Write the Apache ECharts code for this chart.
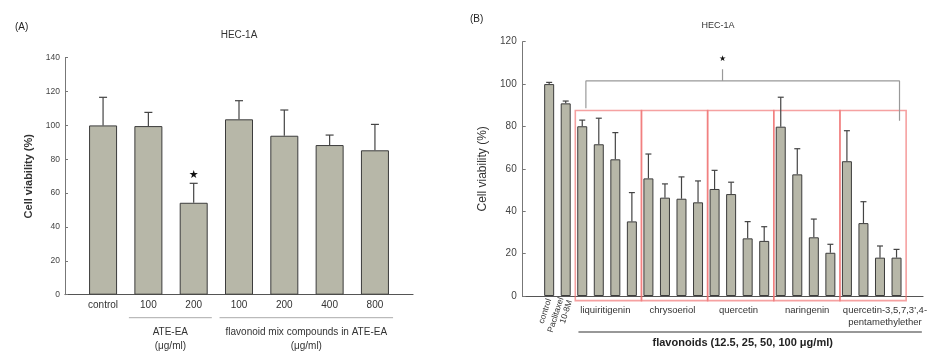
<!DOCTYPE html>
<html>
<head>
<meta charset="utf-8">
<script src="https://cdn.jsdelivr.net/npm/echarts@6/dist/echarts.min.js"></script>
<style>
html, body { margin: 0; padding: 0; background: #fff; }
#chart { width: 943px; height: 351px; }
</style>
</head>
<body>
<div id="chart"></div>
<script>
// ---- panel (A) ----
const catsA = ['control', '100', '200', '100', '200', '400', '800'];
const meanA = [100, 99.6, 54.3, 103.6, 93.9, 88.4, 85.3];
const errTopA = [116.6, 107.7, 65.8, 114.6, 109.1, 94.3, 100.6];
const starA = [[2, 70.7]];
const groupNamesA = ['ATE-EA', 'flavonoid mix compounds in ATE-EA'];
const groupFirstA = [1, 3];
const groupLastA = [2, 6];
const yTicksA = [0, 140, 20];

// ---- panel (B) ----
const catsB = ['control', 'Paclitaxel\n10-8M'];
const meanB = [100.0, 90.9, 80.1, 71.6, 64.5, 35.2, 55.5, 46.4, 45.9, 44.2, 50.5,
               48.1, 27.2, 26.0, 79.9, 57.4, 27.7, 20.4, 63.6, 34.4, 18.1, 18.1];
const errTopB = [100.8, 92.0, 83.0, 83.9, 77.1, 48.8, 67.0, 52.9, 56.2, 54.3, 59.3,
                 53.7, 35.1, 32.7, 93.8, 69.5, 36.3, 24.4, 78.0, 44.5, 23.6, 22.0];
const flavonoids = ['liquiritigenin', 'chrysoeriol', 'quercetin', 'naringenin',
                    "quercetin-3,5,7,3',4-\npentamethylether"];
const flavFirst = [2, 6, 10, 14, 18];
const flavLabelAt = [3.4, 7.45, 11.45, 15.6, 20.3];
const bracketB = [[2.22, 88.6], [2.22, 101.5], [21.18, 101.5], [21.18, 82.7]];
const bracketMidB = [10.48, 101.5, 107];
const starB = [[10.48, 112]];
const yTicksB = [0, 120, 20];

const FONT = 'Liberation Sans, Arial, Helvetica, sans-serif';
const BAR = '#b7b7a8';
const EDGE = '#3c3c3c';

function errRender(capHalf) {
    return function (params, api) {
        const p0 = api.coord([api.value(0), api.value(1)]);
        const p1 = api.coord([api.value(0), api.value(2)]);
        const st = { stroke: '#444', lineWidth: 1.2 };
        return {
            type: 'group',
            children: [
                { type: 'line', shape: { x1: p0[0], y1: p0[1], x2: p1[0], y2: p1[1] }, style: st },
                { type: 'line', shape: { x1: p1[0] - capHalf, y1: p1[1], x2: p1[0] + capHalf, y2: p1[1] }, style: st }
            ]
        };
    };
}

function starRender(size) {
    return function (params, api) {
        const p = api.coord([api.value(0), api.value(1)]);
        return {
            type: 'text', x: p[0], y: p[1],
            style: { text: '★', fill: '#111', font: size + 'px DejaVu Sans',
                     align: 'center', verticalAlign: 'middle', textAlign: 'center', textVerticalAlign: 'middle' }
        };
    };
}

const chart = echarts.init(document.getElementById('chart'));

chart.setOption({
    animation: false,
    textStyle: { fontFamily: FONT },
    title: [
        { text: '(A)', left: 15, top: 22, padding: 0, textStyle: { fontSize: 10, fontWeight: 'normal', color: '#222' } },
        { text: 'HEC-1A', left: 239, top: 30, padding: 0, textAlign: 'center', textStyle: { fontSize: 10, fontWeight: 'normal', color: '#333' } },
        { text: '(B)', left: 470, top: 14, padding: 0, textStyle: { fontSize: 10, fontWeight: 'normal', color: '#222' } },
        { text: 'HEC-1A', left: 718, top: 21, padding: 0, textAlign: 'center', textStyle: { fontSize: 9, fontWeight: 'normal', color: '#333' } }
    ],
    grid: [
        { left: 65, right: 530, top: 57.7, bottom: 56.3 },
        { left: 522.7, right: 20, top: 41.7, bottom: 55 }
    ],
    xAxis: [
        {
            gridIndex: 0, type: 'value', min: -0.84, max: 6.84, position: 'bottom',
            axisLine: { onZero: false, lineStyle: { color: '#555', width: 1.2 } },
            axisTick: { show: false }, splitLine: { show: false },
            axisLabel: {
                customValues: catsA.map((c, i) => i),
                formatter: v => catsA[Math.round(v)],
                fontSize: 10, color: '#333', margin: 6
            }
        },
        {
            gridIndex: 1, type: 'value', min: -1.6, max: 22.6, position: 'bottom',
            axisLine: { onZero: false, lineStyle: { color: '#555', width: 1.2 } },
            axisTick: { show: false }, splitLine: { show: false },
            axisLabel: {
                customValues: catsB.map((c, i) => i),
                formatter: v => catsB[Math.round(v)],
                rotate: 72, fontSize: 8.5, color: '#333', margin: 3, lineHeight: 9
            }
        },
        {
            gridIndex: 1, type: 'value', min: -1.6, max: 22.6, position: 'bottom',
            axisLine: { show: false, onZero: false }, axisTick: { show: false }, splitLine: { show: false },
            axisLabel: {
                customValues: flavLabelAt,
                formatter: v => flavonoids[flavLabelAt.indexOf(v)],
                fontSize: 9.5, color: '#333', margin: 8, lineHeight: 12
            }
        }
    ],
    yAxis: [
        {
            gridIndex: 0, type: 'value', min: yTicksA[0], max: yTicksA[1], interval: yTicksA[2], position: 'left',
            name: 'Cell viability (%)', nameLocation: 'middle', nameGap: 31,
            nameTextStyle: { fontSize: 11, fontWeight: 'bold', color: '#333' },
            axisLine: { show: true, onZero: false, lineStyle: { color: '#777' } },
            axisTick: { show: true, inside: true, length: 3, lineStyle: { color: '#777' } },
            splitLine: { show: false },
            axisLabel: { fontSize: 8.5, color: '#444', margin: 5 }
        },
        {
            gridIndex: 1, type: 'value', min: yTicksB[0], max: yTicksB[1], interval: yTicksB[2], position: 'left',
            name: 'Cell viability (%)', nameLocation: 'middle', nameGap: 34,
            nameTextStyle: { fontSize: 12, color: '#333' },
            axisLine: { show: true, onZero: false, lineStyle: { color: '#777' } },
            axisTick: { show: true, inside: true, length: 3, lineStyle: { color: '#777' } },
            splitLine: { show: false },
            axisLabel: { fontSize: 10, color: '#444', margin: 6 }
        }
    ],
    series: [
        // panel A bars
        {
            type: 'bar', xAxisIndex: 0, yAxisIndex: 0, barWidth: 28,
            data: meanA.map((v, i) => [i, v]),
            itemStyle: { color: BAR, borderColor: EDGE, borderWidth: 1 }, z: 2
        },
        {
            type: 'custom', xAxisIndex: 0, yAxisIndex: 0, z: 3,
            data: meanA.map((v, i) => [i, v, errTopA[i]]),
            renderItem: errRender(4)
        },
        {
            type: 'custom', xAxisIndex: 0, yAxisIndex: 0, z: 3,
            data: starA, renderItem: starRender(11)
        },
        // panel A group underlines and labels
        {
            type: 'custom', xAxisIndex: 0, yAxisIndex: 0, clip: false, silent: true,
            data: groupNamesA.map((n, i) => [groupFirstA[i], groupLastA[i]]),
            renderItem: function (params, api) {
                const a = api.coord([api.value(0) - 0.43, 0]);
                const b = api.coord([api.value(1) + 0.4, 0]);
                const y = a[1] + 23;
                const mid = (a[0] + b[0]) / 2;
                const tx = { fill: '#333', font: '10px ' + FONT, align: 'center', textAlign: 'center',
                             verticalAlign: 'middle', textVerticalAlign: 'middle' };
                return {
                    type: 'group',
                    children: [
                        { type: 'line', shape: { x1: a[0], y1: y, x2: b[0], y2: y }, style: { stroke: '#aaa', lineWidth: 1 } },
                        { type: 'text', x: mid, y: y + 15, style: Object.assign({ text: groupNamesA[params.dataIndex] }, tx) },
                        { type: 'text', x: mid, y: y + 29, style: Object.assign({ text: '(μg/ml)' }, tx) }
                    ]
                };
            }
        },
        // panel B boxes
        {
            type: 'custom', xAxisIndex: 1, yAxisIndex: 1, clip: false, silent: true, z: 1,
            data: flavFirst.map(f => [f - 0.42, f + 3.58]),
            renderItem: function (params, api) {
                const p0 = api.coord([api.value(0), 87.5]);
                const p1 = api.coord([api.value(1), -2.2]);
                return {
                    type: 'rect',
                    shape: { x: p0[0], y: p0[1], width: p1[0] - p0[0], height: p1[1] - p0[1] },
                    style: { fill: 'none', stroke: 'rgba(240,110,110,0.65)', lineWidth: 1.6 }
                };
            }
        },
        // panel B bars
        {
            type: 'bar', xAxisIndex: 1, yAxisIndex: 1, barWidth: 10,
            data: meanB.map((v, i) => [i, v]),
            itemStyle: { color: BAR, borderColor: EDGE, borderWidth: 1 }, z: 2
        },
        {
            type: 'custom', xAxisIndex: 1, yAxisIndex: 1, z: 3,
            data: meanB.map((v, i) => [i, v, errTopB[i]]),
            renderItem: errRender(3)
        },
        // bracket with significance star
        {
            type: 'line', xAxisIndex: 1, yAxisIndex: 1, data: bracketB, symbol: 'none',
            lineStyle: { color: '#999', width: 1.2 }, z: 3, silent: true
        },
        {
            type: 'line', xAxisIndex: 1, yAxisIndex: 1, symbol: 'none', silent: true,
            data: [[bracketMidB[0], bracketMidB[1]], [bracketMidB[0], bracketMidB[2]]],
            lineStyle: { color: '#999', width: 1.2 }, z: 3
        },
        {
            type: 'custom', xAxisIndex: 1, yAxisIndex: 1, z: 3,
            data: starB, renderItem: starRender(8)
        },
        // panel B flavonoid underline
        {
            type: 'custom', xAxisIndex: 1, yAxisIndex: 1, clip: false, silent: true,
            data: [[flavFirst[0] - 0.23, meanB.length + 0.53]],
            renderItem: function (params, api) {
                const a = api.coord([api.value(0), 0]);
                const b = api.coord([api.value(1), 0]);
                const y = a[1] + 36;
                return {
                    type: 'group',
                    children: [
                        { type: 'line', shape: { x1: a[0], y1: y, x2: b[0], y2: y }, style: { stroke: '#333', lineWidth: 1.2 } },
                        { type: 'text', x: api.coord([11.7, 0])[0], y: y + 11,
                          style: { text: 'flavonoids (12.5, 25, 50, 100 μg/ml)', fill: '#222', font: 'bold 11px ' + FONT,
                                   align: 'center', textAlign: 'center', verticalAlign: 'middle', textVerticalAlign: 'middle' } }
                    ]
                };
            }
        }
    ]
});
</script>
</body>
</html>
